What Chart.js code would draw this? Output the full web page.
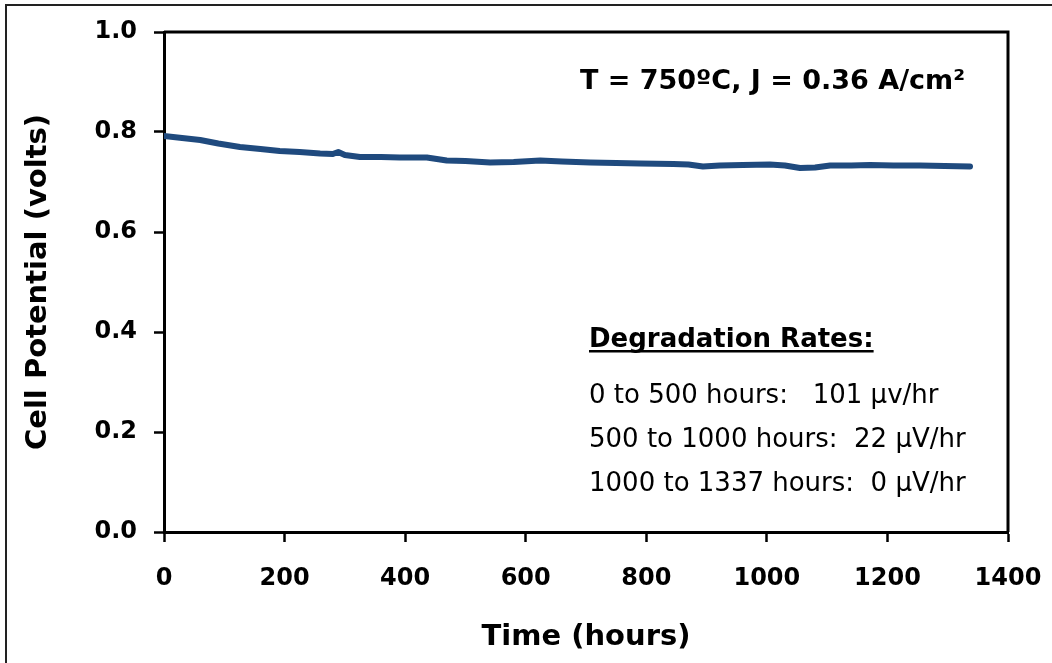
<!DOCTYPE html>
<html>
<head>
<meta charset="utf-8">
<script src="https://cdn.jsdelivr.net/npm/chart.js@4.4.1/dist/chart.umd.min.js"></script>
<style>
  html, body { margin: 0; padding: 0; background: #fff; }
  canvas { display: block; }
</style>
</head>
<body>
<canvas id="c" width="1052" height="663"></canvas>
<script>
// ---- data ----
const hours = [0, 30, 60, 90, 126, 160, 192, 225, 259, 280, 289, 300, 325, 360, 391, 436, 458, 469, 500, 541, 580, 624, 660, 707, 750, 790, 845, 870, 894, 922, 960, 1005, 1030, 1055, 1080, 1105, 1140, 1171, 1210, 1254, 1295, 1337];
const cellPotential = [0.792, 0.788, 0.784, 0.777, 0.770, 0.766, 0.762, 0.760, 0.757, 0.756, 0.760, 0.754, 0.750, 0.750, 0.749, 0.749, 0.745, 0.743, 0.742, 0.739, 0.740, 0.743, 0.741, 0.739, 0.738, 0.737, 0.736, 0.735, 0.731, 0.733, 0.734, 0.735, 0.733, 0.728, 0.729, 0.733, 0.733, 0.734, 0.733, 0.733, 0.732, 0.731];
const xTicks = [0, 200, 400, 600, 800, 1000, 1200, 1400];
const yTicks = [0.0, 0.2, 0.4, 0.6, 0.8, 1.0];
const xTitle = 'Time (hours)';
const yTitle = 'Cell Potential (volts)';
const conditionText = 'T = 750ºC, J = 0.36 A/cm²';
const rateHeading = 'Degradation Rates:';
const rateLines = ['0 to 500 hours:   101 µv/hr', '500 to 1000 hours:  22 µV/hr', '1000 to 1337 hours:  0 µV/hr'];

const FONT = '"DejaVu Sans", Verdana, sans-serif';
const points = hours.map((h, i) => ({ x: h, y: cellPotential[i] }));

const decor = {
  id: 'decor',
  afterDraw(chart) {
    const ctx = chart.ctx;
    const a = chart.chartArea;
    ctx.save();
    // outer frame (left and top visible)
    ctx.fillStyle = '#222';
    ctx.fillRect(5, 4, 2, 663);
    ctx.fillRect(5, 4, 1052, 2);
    // top and right border of plot area
    ctx.strokeStyle = '#000';
    ctx.lineWidth = 3;
    ctx.beginPath();
    ctx.moveTo(a.left, a.top);
    ctx.lineTo(a.right, a.top);
    ctx.lineTo(a.right, a.bottom);
    ctx.stroke();
    // annotations
    ctx.fillStyle = '#000';
    ctx.textBaseline = 'alphabetic';
    ctx.font = 'bold 27px ' + FONT;
    ctx.textAlign = 'right';
    ctx.fillText(conditionText, 965, 89);
    ctx.textAlign = 'left';
    ctx.font = 'bold 26px ' + FONT;
    ctx.fillText(rateHeading, 589, 347);
    const w = ctx.measureText(rateHeading).width;
    ctx.fillRect(589, 350, w, 2.5);
    ctx.font = '26px ' + FONT;
    rateLines.forEach((t, i) => ctx.fillText(t, 589, 403 + i * 44));
    ctx.restore();
  }
};

new Chart(document.getElementById('c'), {
  type: 'line',
  data: {
    datasets: [{
      data: points,
      borderColor: '#1f4a7e',
      borderWidth: 6,
      pointRadius: 0,
      tension: 0,
      fill: false,
      borderCapStyle: 'round',
      borderJoinStyle: 'round'
    }]
  },
  options: {
    responsive: false,
    animation: false,
    devicePixelRatio: 1,
    layout: { padding: { top: 32, right: 44, left: 0, bottom: 0 } },
    plugins: { legend: { display: false }, tooltip: { enabled: false } },
    scales: {
      x: {
        type: 'linear',
        min: 0, max: 1400,
        afterBuildTicks: (s) => { s.ticks = xTicks.map(v => ({ value: v })); },
        afterFit: (s) => { s.height = 131; s.paddingLeft = 0; s.paddingRight = 0; },
        ticks: { color: '#000', font: { family: FONT, size: 24, weight: 'bold' }, padding: 22, maxRotation: 0, autoSkip: false, callback: (v) => String(v) },
        grid: { display: true, drawOnChartArea: false, drawTicks: true, tickLength: 10, tickWidth: 2.5, tickColor: '#000', color: '#000' },
        border: { display: true, color: '#000', width: 3 },
        title: { display: true, text: xTitle, color: '#000', font: { family: FONT, size: 29, weight: 'bold' }, padding: { top: 0, bottom: 8 } }
      },
      y: {
        type: 'linear',
        min: 0, max: 1,
        afterBuildTicks: (s) => { s.ticks = yTicks.map(v => ({ value: v })); },
        afterFit: (s) => { s.width = 164; s.paddingTop = 0; s.paddingBottom = 0; },
        ticks: { color: '#000', font: { family: FONT, size: 24, weight: 'bold' }, padding: 17, callback: (v) => Number(v).toFixed(1) },
        grid: { display: true, drawOnChartArea: false, drawTicks: true, tickLength: 10, tickWidth: 2.5, tickColor: '#000', color: '#000' },
        border: { display: true, color: '#000', width: 3 },
        title: { display: true, text: yTitle, color: '#000', font: { family: FONT, size: 29, weight: 'bold' }, padding: { top: 21, bottom: 0 } }
      }
    }
  },
  plugins: [decor]
});
</script>
</body>
</html>
